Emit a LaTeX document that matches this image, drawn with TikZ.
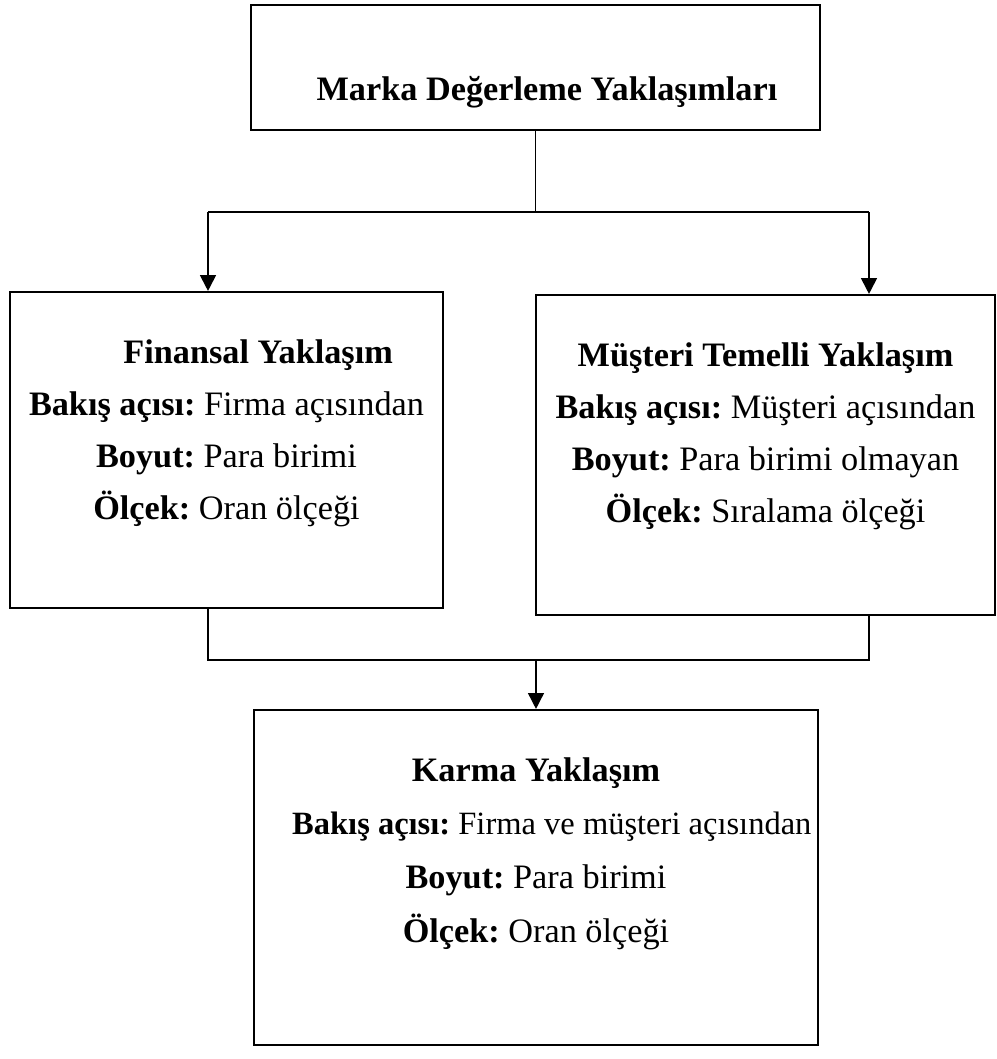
\documentclass[tikz,border=0pt]{standalone}
\usepackage{fontspec}
\setmainfont{Liberation Serif}
\usetikzlibrary{shapes.geometric, arrows.meta}
\tikzstyle{arrow} = [line width=1.1pt,-{Triangle[length=9pt,width=9pt]}]
\tikzstyle{link} = [line width=0.7pt]
\tikzstyle{approach} = [rectangle, draw=black, line width=1.2pt]
\tikzstyle{boxtext} = [align=center, inner sep=0pt, font=\fontsize{19.5}{29.5}\selectfont\frenchspacing]

\begin{document}
\begin{tikzpicture}
\useasboundingbox (0,0) rectangle (19.94,-21.18);
\node (top) [approach, minimum width=11.38cm, minimum height=2.5cm] at (10.71,-1.35) {};
\node (fin) [approach, minimum width=8.66cm, minimum height=6.32cm] at (4.53,-9.0) {};
\node (mus) [approach, minimum width=9.18cm, minimum height=6.4cm] at (15.31,-9.1) {};
\node (karma) [approach, minimum width=11.28cm, minimum height=6.7cm] at (10.72,-17.55) {};
% texts
\node (toptext) [boxtext, yshift=-0.49cm] at (top.center) {\hspace*{13pt}\textbf{Marka Değerleme Yaklaşımları}};
\node (fintext) [boxtext, yshift=0.33cm] at (fin.center) {\hspace*{36pt}\textbf{Finansal Yaklaşım}\\
\textbf{Bakış açısı:} Firma açısından\\
\textbf{Boyut:} Para birimi\\
\textbf{Ölçek:} Oran ölçeği};
\node (mustext) [boxtext, yshift=0.37cm] at (mus.center) {\textbf{Müşteri Temelli Yaklaşım}\\
\textbf{Bakış açısı:} Müşteri açısından\\
\textbf{Boyut:} Para birimi olmayan\\
\textbf{Ölçek:} Sıralama ölçeği};
\node (karmatext) [boxtext, yshift=0.48cm, font=\fontsize{19.5}{30.6}\selectfont\frenchspacing] at (karma.center) {\textbf{Karma Yaklaşım}\\
\hspace*{18pt}{\fontsize{18.5}{30.6}\selectfont\textbf{Bakış açısı:} Firma ve müşteri açısından}\\
\textbf{Boyut:} Para birimi\\
\textbf{Ölçek:} Oran ölçeği};
% connectors
\coordinate (jl) at (4.16,-4.24);
\coordinate (jr) at (17.38,-4.24);
\coordinate (ml) at (4.16,-13.2);
\coordinate (mr) at (17.38,-13.2);
\draw [link] (top.south) -- (top.south |- jl);
\draw [link] (jl) -- (jr);
\draw [arrow] (jl) -- (jl |- fin.north);
\draw [arrow] (jr) -- (jr |- mus.north);
\draw [link] (ml |- fin.south) -- (ml) -- (mr) -- (mr |- mus.south);
\draw [arrow, line width=0.9pt] (karma.north |- ml) -- (karma.north);
\end{tikzpicture}
\end{document}
